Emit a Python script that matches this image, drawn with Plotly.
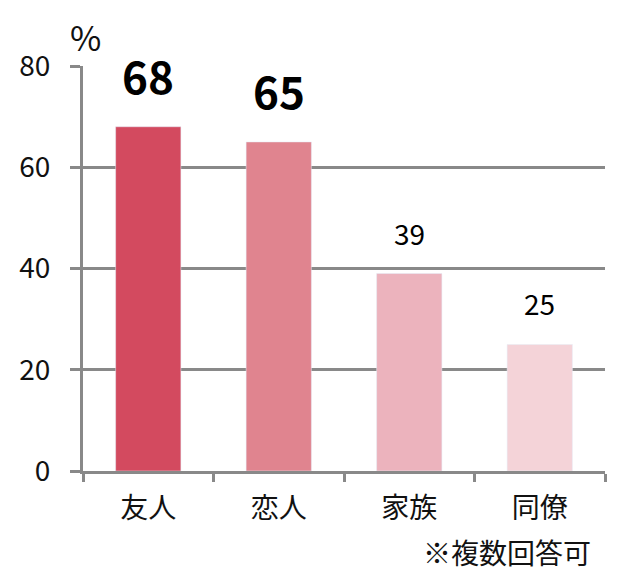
import plotly.graph_objects as go

categories = ["友人", "恋人", "家族", "同僚"]
values = [68, 65, 39, 25]
bar_colors = ["#d34a5f", "#e0848f", "#ecb3bd", "#f4d3d8"]
label_bold = [True, True, False, False]

fig = go.Figure()
fig.add_trace(go.Bar(x=categories, y=values, marker_color=bar_colors, width=0.5))

# value labels above bars, white box hides the gridline behind them
for c, v, b in zip(categories, values, label_bold):
    fig.add_annotation(
        x=c, y=v, text=f"<b>{v}</b>" if b else str(v),
        showarrow=False, yanchor="middle", yshift=52 if b else 41,
        font=dict(size=44 if b else 28, color="#000000"),
        bgcolor="#ffffff", borderpad=3,
    )

fig.add_annotation(x=0.0, y=1.0, xref="paper", yref="paper", text="%",
                   showarrow=False, xanchor="center", yanchor="middle", yshift=30, xshift=2,
                   font=dict(size=34, color="#111111"))
fig.add_annotation(x=1.0, y=0.0, xref="paper", yref="paper", text="※複数回答可",
                   showarrow=False, xanchor="right", yanchor="middle", yshift=-81, xshift=-12,
                   font=dict(size=28, color="#111111"))

# page body adds ~8px offset, margins compensate
fig.update_layout(
    width=640, height=584,
    margin=dict(l=75, r=43, t=58, b=121),
    paper_bgcolor="white", plot_bgcolor="white",
    font=dict(family="Noto Sans CJK JP", color="#111111"),
    showlegend=False,
)
fig.update_yaxes(range=[0, 80], tickvals=[0, 20, 40, 60, 80], automargin=False,
                 showgrid=True, gridcolor="#898989", gridwidth=3,
                 showline=True, linecolor="#898989", linewidth=3,
                 ticks="outside", ticklen=10, tickcolor="#898989", tickwidth=3,
                 ticklabelstandoff=14, tickfont=dict(size=28), zeroline=False)
fig.update_xaxes(showline=True, linecolor="#898989", linewidth=3, automargin=False,
                 ticks="outside", tickson="boundaries", ticklen=8,
                 tickcolor="#898989", tickwidth=3, ticklabelstandoff=10,
                 tickfont=dict(size=28))

fig.write_html("out.html")
